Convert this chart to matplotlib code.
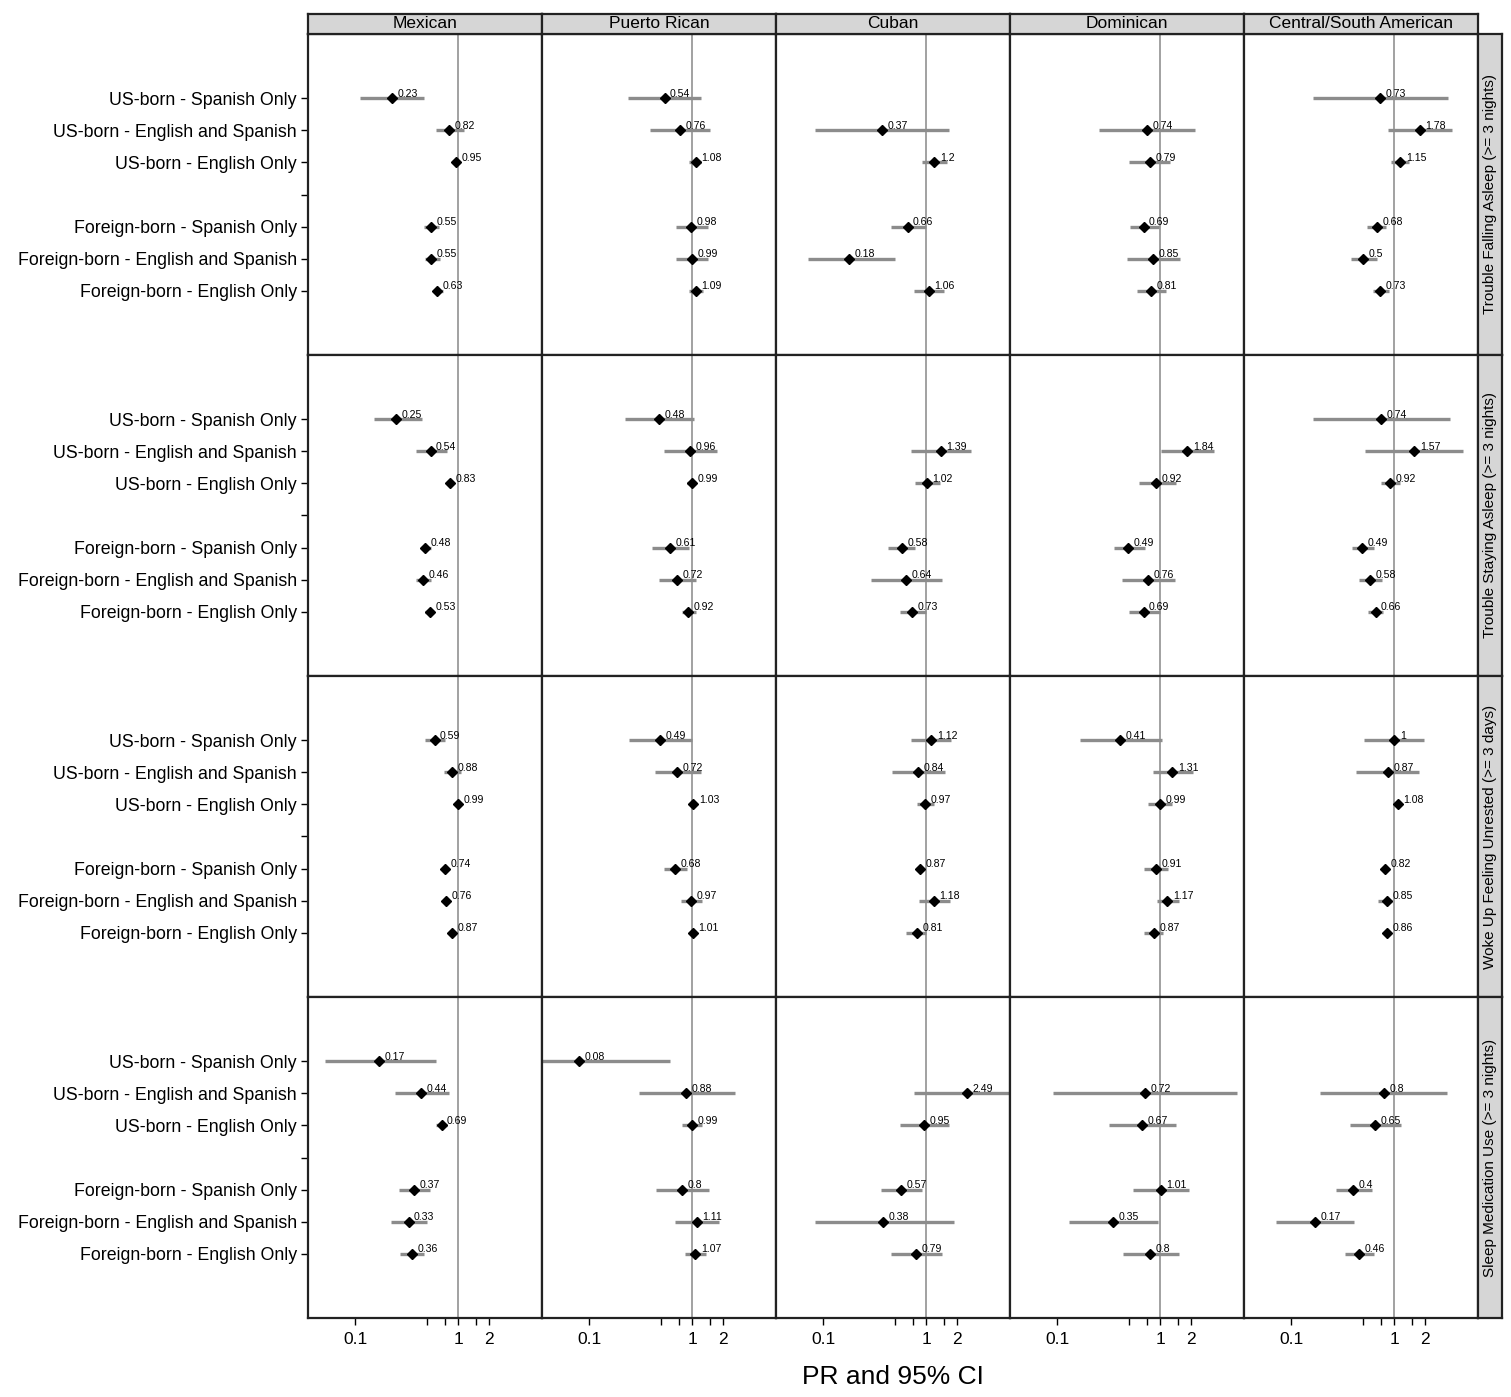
import matplotlib
matplotlib.use('Agg')
import matplotlib.pyplot as plt

plt.rcParams.update({
    'font.family': ['Liberation Sans', 'DejaVu Sans'],
    'font.size': 12,
})

# Categorias e grupos
categorias = ['US-born - Spanish Only', 'US-born - English and Spanish', 'US-born - English Only',
              'Foreign-born - Spanish Only', 'Foreign-born - English and Spanish', 'Foreign-born - English Only']
posicoes_y = [7, 6, 5, 3, 2, 1]
grupos = ['Mexican', 'Puerto Rican', 'Cuban', 'Dominican', 'Central/South American']
desfechos = ['Trouble Falling Asleep (>= 3 nights)', 'Trouble Staying Asleep (>= 3 nights)',
             'Woke Up Feeling Unrested (>= 3 days)', 'Sleep Medication Use (>= 3 nights)']

# PR e IC 95% (linhas = grupos, colunas = categorias)
pr_falling = [[0.23, 0.82, 0.95, 0.55, 0.55, 0.63],
              [0.54, 0.76, 1.08, 0.98, 0.99, 1.09],
              [None, 0.37, 1.2, 0.66, 0.18, 1.06],
              [None, 0.74, 0.79, 0.69, 0.85, 0.81],
              [0.73, 1.78, 1.15, 0.68, 0.5, 0.73]]
lo_falling = [[0.113, 0.607, 0.875, 0.468, 0.474, 0.572],
              [0.241, 0.394, 0.942, 0.69, 0.70, 0.93],
              [None, 0.083, 0.904, 0.452, 0.071, 0.762],
              [None, 0.255, 0.50, 0.51, 0.48, 0.593],
              [0.162, 0.877, 0.94, 0.54, 0.385, 0.617]]
hi_falling = [[0.471, 1.13, 1.05, 0.654, 0.669, 0.71],
              [1.23, 1.48, 1.22, 1.42, 1.42, 1.28],
              [None, 1.65, 1.60, 1.0, 0.495, 1.48],
              [None, 2.17, 1.25, 0.97, 1.56, 1.14],
              [3.34, 3.62, 1.39, 0.84, 0.676, 0.90]]

pr_staying = [[0.25, 0.54, 0.83, 0.48, 0.46, 0.53],
              [0.48, 0.96, 0.99, 0.61, 0.72, 0.92],
              [None, 1.39, 1.02, 0.58, 0.64, 0.73],
              [None, 1.84, 0.92, 0.49, 0.76, 0.69],
              [0.74, 1.57, 0.92, 0.49, 0.58, 0.66]]
lo_staying = [[0.154, 0.388, 0.78, 0.434, 0.394, 0.478],
              [0.225, 0.538, 0.89, 0.409, 0.475, 0.80],
              [None, 0.718, 0.778, 0.425, 0.293, 0.552],
              [None, 1.01, 0.617, 0.355, 0.43, 0.494],
              [0.162, 0.52, 0.747, 0.389, 0.452, 0.558]]
hi_staying = [[0.447, 0.782, 0.88, 0.54, 0.543, 0.585],
              [1.04, 1.73, 1.09, 0.928, 1.08, 1.08],
              [None, 2.73, 1.37, 0.778, 1.41, 1.0],
              [None, 3.34, 1.44, 0.718, 1.38, 1.0],
              [3.48, 4.66, 1.13, 0.636, 0.755, 0.778]]

pr_unrested = [[0.59, 0.88, 0.99, 0.74, 0.76, 0.87],
               [0.49, 0.72, 1.03, 0.68, 0.97, 1.01],
               [1.12, 0.84, 0.97, 0.87, 1.18, 0.81],
               [0.41, 1.31, 0.99, 0.91, 1.17, 0.87],
               [1, 0.87, 1.08, 0.82, 0.85, 0.86]]
lo_unrested = [[0.475, 0.736, 0.93, 0.69, 0.71, 0.82],
               [0.243, 0.44, 0.97, 0.531, 0.776, 0.95],
               [0.718, 0.47, 0.818, 0.80, 0.843, 0.642],
               [0.166, 0.843, 0.762, 0.703, 0.923, 0.703],
               [0.51, 0.43, 1.02, 0.77, 0.703, 0.81]]
hi_unrested = [[0.742, 1.06, 1.05, 0.80, 0.81, 0.92],
               [1.0, 1.23, 1.09, 0.894, 1.25, 1.07],
               [1.74, 1.52, 1.19, 0.94, 1.70, 1.0],
               [1.05, 2.06, 1.31, 1.20, 1.52, 1.07],
               [1.94, 1.74, 1.15, 0.87, 0.95, 0.91]]

pr_meds = [[0.17, 0.44, 0.69, 0.37, 0.33, 0.36],
           [0.08, 0.88, 0.99, 0.8, 1.11, 1.07],
           [None, 2.49, 0.95, 0.57, 0.38, 0.79],
           [None, 0.72, 0.67, 1.01, 0.35, 0.8],
           [None, 0.8, 0.65, 0.4, 0.17, 0.46]]
lo_meds = [[0.0515, 0.243, 0.607, 0.267, 0.225, 0.275],
           [0.03, 0.308, 0.80, 0.447, 0.679, 0.861],
           [None, 0.762, 0.552, 0.366, 0.083, 0.452],
           [None, 0.092, 0.318, 0.547, 0.132, 0.438],
           [None, 0.192, 0.373, 0.273, 0.071, 0.334]]
hi_meds = [[0.616, 0.811, 0.782, 0.535, 0.496, 0.471],
           [0.616, 2.61, 1.25, 1.45, 1.84, 1.35],
           [None, 8.0, 1.65, 0.904, 1.88, 1.42],
           [None, 5.58, 1.42, 1.92, 0.96, 1.52],
           [None, 3.28, 1.16, 0.605, 0.404, 0.636]]

linhas = [(pr_falling, lo_falling, hi_falling),
          (pr_staying, lo_staying, hi_staying),
          (pr_unrested, lo_unrested, hi_unrested),
          (pr_meds, lo_meds, hi_meds)]

xticks = [0.1, 0.5, 0.75, 1, 1.5, 2]
xticklabels = ['0.1', '', '', '1', '', '2']

W, H = 1511, 1397
fig = plt.figure(figsize=(W / 100, H / 100), dpi=100)
fig.patch.set_facecolor('white')

x0, pw = 308, 234
y0, ph = 34, 321


def rect(x, y, w, h):
    return [x / W, 1 - (y + h) / H, w / W, h / H]


for i, (pr, lo, hi) in enumerate(linhas):
    for j, grupo in enumerate(grupos):
        ax = fig.add_axes(rect(x0 + j * pw, y0 + i * ph, pw, ph))
        ax.set_xscale('log')
        ax.set_xlim(0.035, 6.5)
        ax.set_ylim(-1, 9)
        ax.axvline(1, color='#9a9a9a', lw=1.3, zorder=1)

        for k, y in enumerate(posicoes_y):
            v = pr[j][k]
            if v is None:
                continue
            ax.plot([lo[j][k], hi[j][k]], [y, y], color='#8c8c8c', lw=2.4,
                    solid_capstyle='butt', zorder=2)
            ax.plot(v, y, marker='D', color='black', ms=5.3, zorder=3)
            ax.annotate(f'{v:g}', (v, y), xytext=(4, -0.5), textcoords='offset points',
                        fontsize=7.6, ha='left', va='bottom')

        for s in ax.spines.values():
            s.set_linewidth(1.6)
            s.set_color('#222222')

        ax.minorticks_off()
        if j == 0:
            ax.set_yticks([7, 6, 5, 4, 3, 2, 1])
            ax.set_yticklabels(categorias[:3] + [''] + categorias[3:], fontsize=12.8)
            ax.tick_params(axis='y', length=5, width=1, pad=3)
        else:
            ax.set_yticks([])
        if i == 3:
            ax.set_xticks(xticks)
            ax.set_xticklabels(xticklabels, fontsize=12.5)
            ax.tick_params(axis='x', length=5, width=1, pad=5)
        else:
            ax.set_xticks([])

        # Faixa superior com o nome do grupo
        if i == 0:
            sax = fig.add_axes(rect(x0 + j * pw, 14, pw, 20))
            sax.set_facecolor('#d6d6d6')
            sax.set_xticks([])
            sax.set_yticks([])
            for s in sax.spines.values():
                s.set_linewidth(1.6)
                s.set_color('#222222')
            sax.text(0.5, 0.5, grupo, ha='center', va='center', fontsize=12.5,
                     transform=sax.transAxes)

    # Faixa lateral com o desfecho
    rax = fig.add_axes(rect(x0 + 5 * pw, y0 + i * ph, 24, ph))
    rax.set_facecolor('#d6d6d6')
    rax.set_xticks([])
    rax.set_yticks([])
    for s in rax.spines.values():
        s.set_linewidth(1.6)
        s.set_color('#222222')
    rax.text(0.5, 0.5, desfechos[i], ha='center', va='center', fontsize=11,
             rotation=90, transform=rax.transAxes)

fig.text((x0 + 2.5 * pw) / W, 1 - 1377 / H, 'PR and 95% CI', ha='center', va='center',
         fontsize=19)

plt.savefig('out.png', dpi=100)
print("Salvo: out.png")
